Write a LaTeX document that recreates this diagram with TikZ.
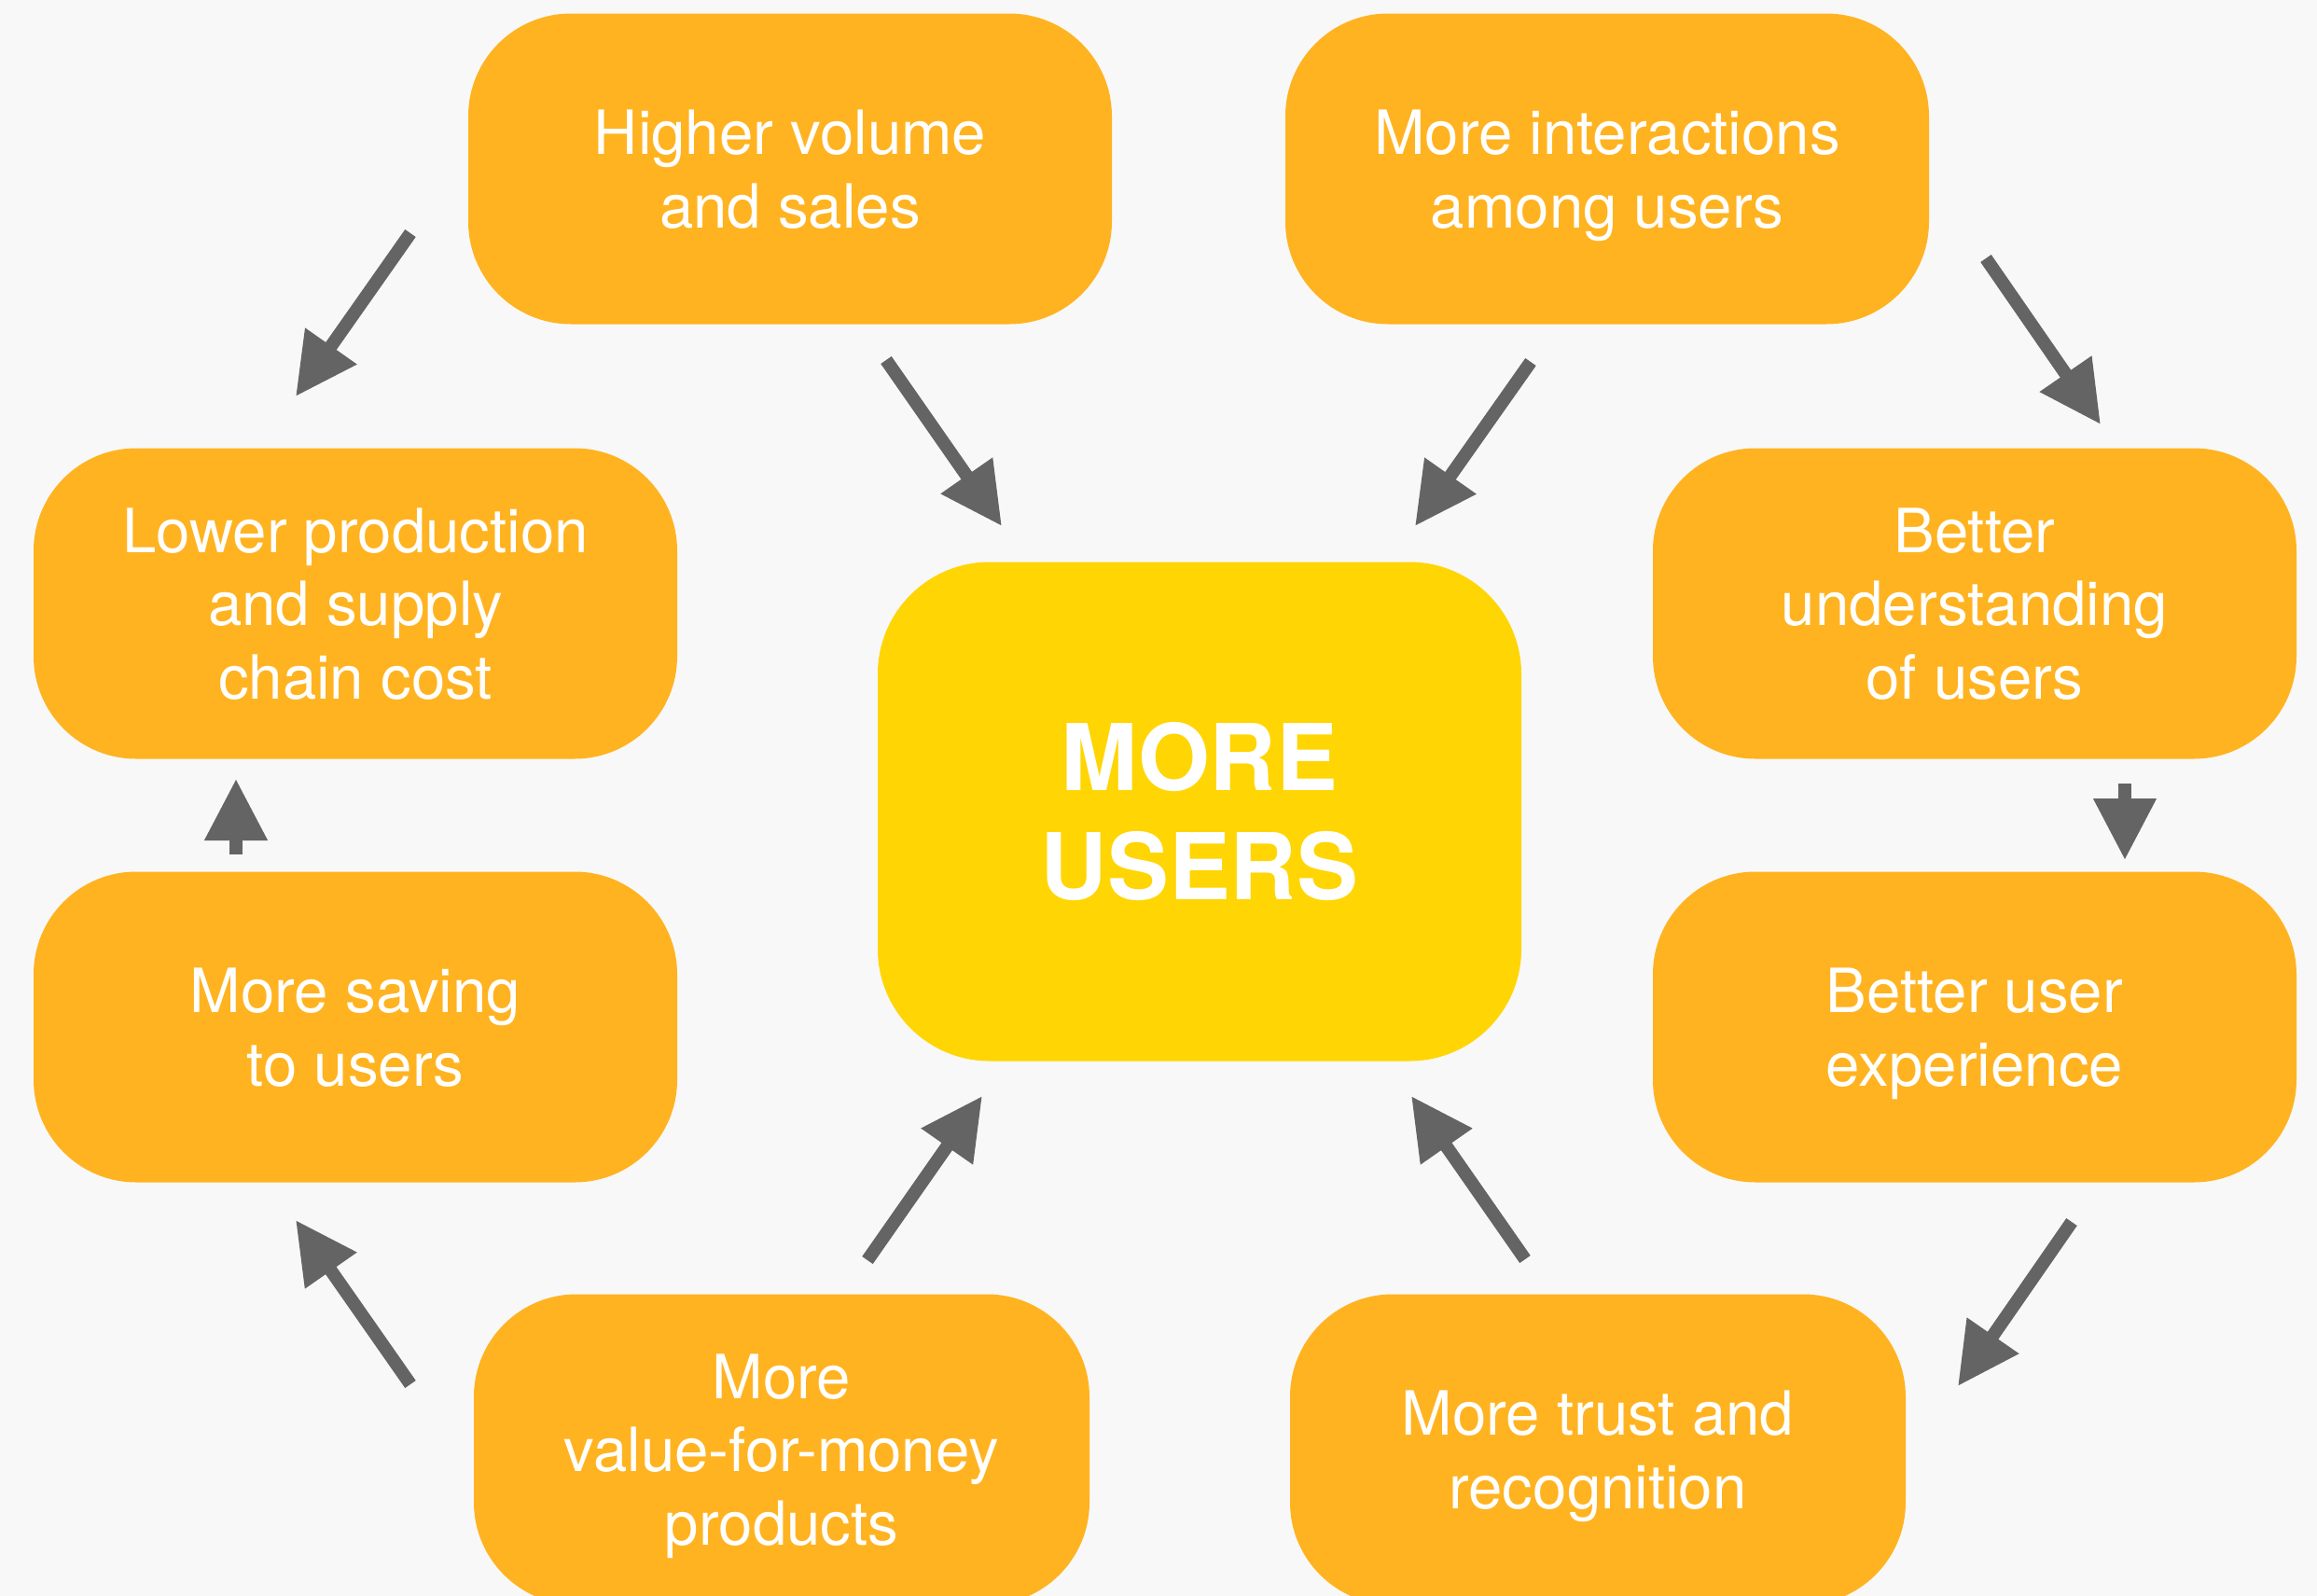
\documentclass[tikz,border=0pt]{standalone}
\usepackage{fontspec}
\setmainfont{TeX Gyre Heros}
\usetikzlibrary{arrows.meta}
\definecolor{boxorange}{RGB}{255,179,32}
\definecolor{coreyellow}{RGB}{255,213,3}
\definecolor{arrowgray}{RGB}{100,100,100}
\definecolor{paper}{RGB}{248,248,248}

\begin{document}
\begin{tikzpicture}[x=1cm,y=-1cm,
  tile/.style={rectangle,text=white,align=center,minimum width=6.9cm},
  stage/.style={tile,rounded corners=1.1cm,fill=boxorange,minimum height=3.33cm,
    font=\fontsize{18.6}{22.3}\selectfont,text depth=-1.8pt},
  core/.style={tile,rounded corners=1.2cm,fill=coreyellow,minimum height=5.35cm,
    font=\fontsize{28.1}{33.3}\selectfont\bfseries},
  flow/.style={arrowgray,line width=1.4mm,-{Triangle[length=6.6mm,width=6.4mm]}}]
\fill[paper] (0,0) rectangle (24.84,17.11);
\clip (0,0) rectangle (24.84,17.11);
% the eight stages round the core
\node[stage] (volume) at (8.47,1.81) {Higher volume\\and sales};
\node[stage] (interact) at (17.23,1.81) {More interactions\\among users};
\node[stage] (cost) at (3.81,6.47) {Lower production\\and supply\\chain cost};
\node[stage] (understand) at (21.17,6.47) {Better\\understanding\\of users};
\node[stage] (saving) at (3.81,11.01) {More saving\\to users};
\node[stage] (experience) at (21.17,11.01) {Better user\\experience};
\node[stage,minimum width=6.6cm] (value) at (8.38,15.54) {More\\value-for-money\\products};
\node[stage,minimum width=6.6cm] (trust) at (17.13,15.54) {More trust and\\recognition};
\node[core] (users) at (12.86,8.70) {MORE\\USERS};
% arrow ends
\coordinate (a1) at (4.40,2.50);   \coordinate (a2) at (3.17,4.25);
\coordinate (b1) at (9.50,3.86);   \coordinate (b2) at (10.74,5.64);
\coordinate (c1) at (16.41,3.88);  \coordinate (c2) at (15.17,5.64);
\coordinate (d1) at (21.29,2.77);  \coordinate (d2) at (22.52,4.55);
\coordinate (e1) at (22.78,8.40);  \coordinate (e2) at (22.78,9.22);
\coordinate (f1) at (22.21,13.10); \coordinate (f2) at (20.99,14.86);
\coordinate (g1) at (16.35,13.50); \coordinate (g2) at (15.13,11.75);
\coordinate (h1) at (9.30,13.51);  \coordinate (h2) at (10.53,11.75);
\coordinate (i1) at (4.40,14.84);  \coordinate (i2) at (3.17,13.08);
\coordinate (j1) at (2.53,9.16);   \coordinate (j2) at (2.53,8.35);
\draw[flow] (a1)--(a2); \draw[flow] (b1)--(b2); \draw[flow] (c1)--(c2);
\draw[flow] (d1)--(d2); \draw[flow] (e1)--(e2); \draw[flow] (f1)--(f2);
\draw[flow] (g1)--(g2); \draw[flow] (h1)--(h2); \draw[flow] (i1)--(i2);
\draw[flow] (j1)--(j2);
\end{tikzpicture}
\end{document}
